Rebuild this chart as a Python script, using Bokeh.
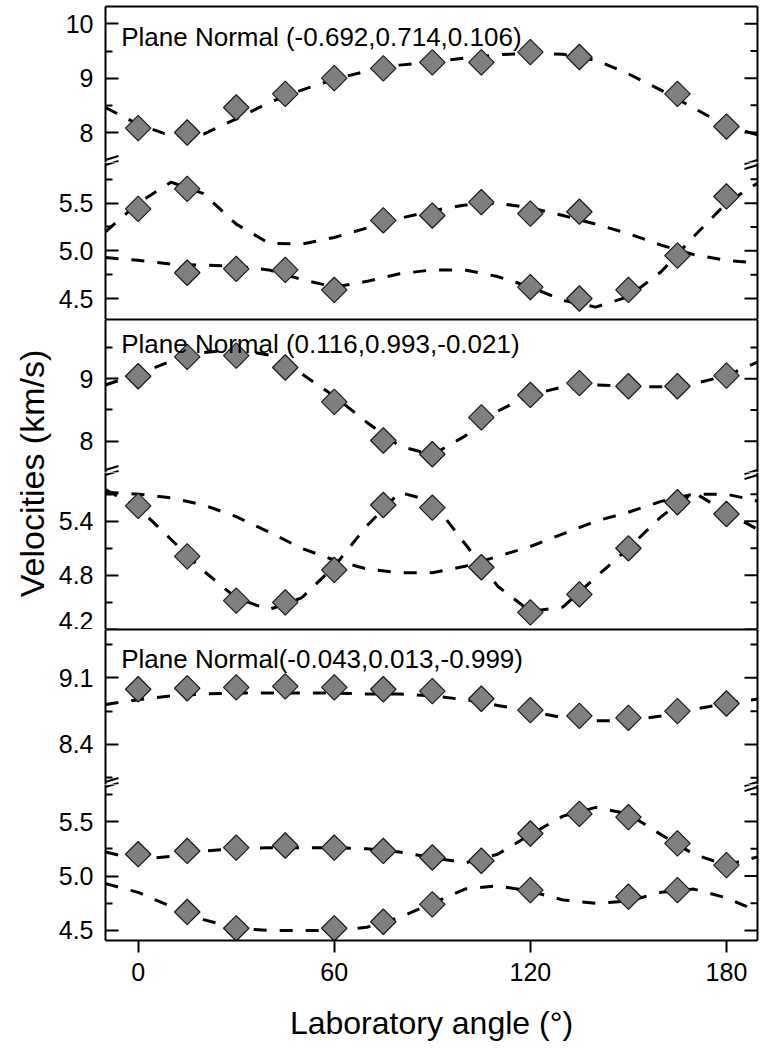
import numpy as np
from math import pi
from bokeh.plotting import figure
from bokeh.layouts import column, row
from bokeh.models import Range1d, LinearAxis, FixedTicker, Label, Arrow
from bokeh.embed import file_html
from bokeh.resources import INLINE

FONT = "Liberation Sans"

# ---------------- data ----------------
angles = [0, 15, 30, 45, 60, 75, 90, 105, 120, 135, 150, 165, 180]
fit_angles = [-10, 0, 10, 20, 30, 40, 50, 60, 70, 80, 90, 100, 110, 120, 130, 140, 150, 160, 170, 180, 190]

titles = ["Plane Normal (-0.692,0.714,0.106)",
          "Plane Normal (0.116,0.993,-0.021)",
          "Plane Normal(-0.043,0.013,-0.999)"]

# Panel 1
p1_qp = [8.08, 8.00, 8.46, 8.71, 9.00, 9.18, 9.29, 9.29, 9.48, 9.39, None, 8.71, 8.11]
p1_s1 = [5.44, 5.65, None, None, None, 5.32, 5.37, 5.51, 5.39, 5.41, None, 4.95, 5.57]
p1_s2 = [None, 4.77, 4.81, 4.80, 4.59, None, None, None, 4.62, 4.50, 4.59, None, None]
p1_fit_qp = [8.46, 8.15, 7.94, 7.97, 8.25, 8.55, 8.78, 8.98, 9.13, 9.24, 9.30, 9.37, 9.43, 9.46, 9.44, 9.33, 9.08, 8.78, 8.45, 8.12, 7.95]
p1_fit_s1 = [5.20, 5.50, 5.72, 5.60, 5.28, 5.08, 5.07, 5.14, 5.24, 5.34, 5.42, 5.48, 5.50, 5.45, 5.37, 5.28, 5.18, 5.06, 4.96, 4.90, 4.87]
p1_fit_s2 = [4.93, 4.90, 4.86, 4.85, 4.84, 4.80, 4.70, 4.62, 4.68, 4.76, 4.80, 4.80, 4.73, 4.62, 4.48, 4.41, 4.52, 4.78, 5.15, 5.50, 5.72]

# Panel 2
p2_qp = [9.04, 9.35, 9.37, 9.18, 8.63, 8.01, 7.79, 8.38, 8.74, 8.93, 8.88, 8.88, 9.05]
p2_s1 = [5.57, 5.01, 4.52, 4.50, 4.86, 5.58, 5.55, 4.89, 4.39, 4.59, 5.10, 5.61, 5.48]
p2_fit_qp = [8.90, 9.08, 9.28, 9.42, 9.47, 9.38, 9.08, 8.72, 8.30, 7.92, 7.78, 8.08, 8.48, 8.74, 8.87, 8.90, 8.88, 8.87, 8.92, 9.05, 9.28]
p2_fit_s1 = [5.72, 5.70, 5.66, 5.58, 5.45, 5.28, 5.10, 4.97, 4.87, 4.83, 4.83, 4.90, 5.01, 5.12, 5.26, 5.40, 5.50, 5.62, 5.70, 5.70, 5.62]
p2_fit_s2 = [5.75, 5.55, 5.20, 4.85, 4.55, 4.42, 4.55, 4.90, 5.35, 5.72, 5.62, 5.15, 4.68, 4.40, 4.45, 4.78, 5.10, 5.45, 5.72, 5.50, 5.30]

# Panel 3
p3_qp = [8.98, 8.99, 9.00, 9.01, 9.00, 8.98, 8.96, 8.88, 8.76, 8.70, 8.68, 8.75, 8.83]
p3_s1 = [5.20, 5.23, 5.26, 5.28, 5.26, 5.23, 5.17, 5.14, 5.39, 5.57, 5.54, 5.30, 5.10]
p3_s2 = [None, 4.67, 4.52, None, 4.52, 4.58, 4.74, None, 4.87, None, 4.81, 4.87, None]
p3_fit_qp = [8.82, 8.87, 8.91, 8.93, 8.94, 8.94, 8.94, 8.94, 8.93, 8.93, 8.91, 8.87, 8.81, 8.75, 8.68, 8.65, 8.65, 8.70, 8.77, 8.83, 8.88]
p3_fit_s1 = [5.22, 5.15, 5.18, 5.23, 5.25, 5.26, 5.26, 5.26, 5.25, 5.22, 5.17, 5.12, 5.20, 5.38, 5.55, 5.63, 5.57, 5.38, 5.20, 5.10, 5.18]
p3_fit_s2 = [4.93, 4.85, 4.72, 4.60, 4.52, 4.50, 4.50, 4.50, 4.53, 4.62, 4.75, 4.88, 4.91, 4.86, 4.78, 4.75, 4.77, 4.85, 4.88, 4.80, 4.67]

# axis ticks / labels
x_ticks = [0, 60, 120, 180]
x_tick_labels = ["0", "60", "120", "180"]

p1_hi_ticks, p1_hi_labels, p1_hi_minor = [8, 9, 10], ["8", "9", "10"], [8.5, 9.5]
p1_lo_ticks, p1_lo_labels, p1_lo_minor = [4.5, 5.0, 5.5], ["4.5", "5.0", "5.5"], [4.75, 5.25, 5.75]
p2_hi_ticks, p2_hi_labels, p2_hi_minor = [8, 9], ["8", "9"], [8.5, 9.5]
p2_lo_ticks, p2_lo_labels, p2_lo_minor = [4.2, 4.8, 5.4], ["4.2", "4.8", "5.4"], [4.5, 5.1, 5.7]
p3_hi_ticks, p3_hi_labels, p3_hi_minor = [8.4, 9.1], ["8.4", "9.1"], [8.05, 8.75, 9.45]
p3_lo_ticks, p3_lo_labels, p3_lo_minor = [4.5, 5.0, 5.5], ["4.5", "5.0", "5.5"], [4.75, 5.25, 5.75]

x_title = "Laboratory angle (°)"
y_title = "Velocities (km/s)"

# ---------------- layout ----------------
X0, X1 = -10, 189.5
FRAME_W = 652
LABEL_W = 53
LEFT_B = 52
RIGHT_B = 9
TOP_B = 6
BOTTOM_B = 108
TICK_FS = "25px"
xr = Range1d(X0, X1)
UPX = (X1 - X0) / FRAME_W


def arr(v):
    return np.array([np.nan if a is None else a for a in v], dtype=float)


def bare_axis():
    return LinearAxis(ticker=FixedTicker(ticks=[]), major_label_standoff=0,
                      major_tick_in=0, major_tick_out=0, minor_tick_in=0, minor_tick_out=0,
                      axis_line_width=2, axis_line_color="black")


def make_sub(yr, frame_h, major, labels, minor, top_line, bottom_axis=False, first=False):
    p = figure(frame_width=FRAME_W, frame_height=frame_h, x_range=xr, y_range=Range1d(*yr),
               output_backend="svg", toolbar_location=None, x_axis_location=None,
               min_border=0, min_border_left=LEFT_B, min_border_right=RIGHT_B,
               min_border_top=TOP_B if first else 0,
               min_border_bottom=BOTTOM_B if bottom_axis else 0)
    p.outline_line_color = None
    p.grid.visible = False
    ax = p.yaxis[0]
    ax.ticker = FixedTicker(ticks=major, minor_ticks=minor)
    ax.major_label_overrides = {t: l for t, l in zip(major, labels)}
    ax.major_label_text_font = FONT
    ax.major_label_text_font_size = TICK_FS
    ax.major_label_text_color = "black"
    ax.major_label_standoff = 12
    ax.major_tick_in = 13
    ax.major_tick_out = 0
    ax.minor_tick_in = 7
    ax.minor_tick_out = 0
    ax.axis_line_width = 2
    ax.major_tick_line_width = 2
    ax.minor_tick_line_width = 2
    ax.axis_line_color = "black"
    ax.major_tick_line_color = "black"
    ax.minor_tick_line_color = "black"
    # right frame line with inward ticks (no labels)
    p.add_layout(bare_axis(), "right")
    p.segment(x0=X1, y0=major, x1=X1 - 13 * UPX, y1=major, line_color="black", line_width=2)
    p.segment(x0=X1, y0=minor, x1=X1 - 7 * UPX, y1=minor, line_color="black", line_width=2)
    if not bottom_axis:
        p.add_layout(bare_axis(), "above" if top_line else "below")
    else:
        xa = LinearAxis(ticker=FixedTicker(ticks=x_ticks),
                        major_label_overrides={t: l for t, l in zip(x_ticks, x_tick_labels)},
                        major_label_text_font=FONT, major_label_text_font_size=TICK_FS,
                        major_label_text_color="black", major_label_standoff=10,
                        major_tick_in=0, major_tick_out=12, minor_tick_in=0, minor_tick_out=0,
                        axis_line_width=2, major_tick_line_width=2,
                        axis_line_color="black", major_tick_line_color="black",
                        axis_label=x_title, axis_label_text_font=FONT,
                        axis_label_text_font_size="32px", axis_label_text_font_style="normal",
                        axis_label_text_color="black", axis_label_standoff=21)
        p.add_layout(xa, "below")
    return p


def add_break(p, y_at, frame_h, yr):
    upy = (yr[1] - yr[0]) / frame_h
    for xe in (X0, X1):
        for d in (-2.5, 2.5):
            p.add_layout(Arrow(end=None, start=None,
                               x_start=xe - 13 * UPX, y_start=y_at + (-4 + d) * upy,
                               x_end=xe + 13 * UPX, y_end=y_at + (4 + d) * upy,
                               line_width=2, line_color="black"))


def draw(p, fits, series):
    for f in fits:
        p.line(fit_angles, arr(f), line_color="black", line_width=3, line_dash="13 13")
    for s in series:
        p.scatter(angles, arr(s), marker="square", size=18, angle=pi / 4,
                  fill_color="#7f7f7f", line_color="#1a1a1a", line_width=1.2)


panels = [
    dict(hi=(7.448, 10.319), hi_h=156, lo=(4.28, 5.926), lo_h=157,
         hi_t=(p1_hi_ticks, p1_hi_labels, p1_hi_minor), lo_t=(p1_lo_ticks, p1_lo_labels, p1_lo_minor),
         hi_fit=[p1_fit_qp], hi_s=[p1_qp], lo_fit=[p1_fit_s1, p1_fit_s2], lo_s=[p1_s1, p1_s2],
         title=titles[0], ty=9.76),
    dict(hi=(7.497, 9.95), hi_h=153, lo=(4.2, 5.94), lo_h=157,
         hi_t=(p2_hi_ticks, p2_hi_labels, p2_hi_minor), lo_t=(p2_lo_ticks, p2_lo_labels, p2_lo_minor),
         hi_fit=[p2_fit_qp], hi_s=[p2_qp], lo_fit=[p2_fit_s1, p2_fit_s2], lo_s=[p2_s1],
         title=titles[1], ty=9.56),
    dict(hi=(7.98, 9.607), hi_h=155, lo=(4.408, 5.84), lo_h=156,
         hi_t=(p3_hi_ticks, p3_hi_labels, p3_hi_minor), lo_t=(p3_lo_ticks, p3_lo_labels, p3_lo_minor),
         hi_fit=[p3_fit_qp], hi_s=[p3_qp], lo_fit=[p3_fit_s1, p3_fit_s2], lo_s=[p3_s1, p3_s2],
         title=titles[2], ty=9.30),
]

figs = []
for i, pn in enumerate(panels):
    last = (i == len(panels) - 1)
    ph = make_sub(pn["hi"], pn["hi_h"], *pn["hi_t"], top_line=True, first=(i == 0))
    pl = make_sub(pn["lo"], pn["lo_h"], *pn["lo_t"], top_line=False, bottom_axis=last)
    draw(ph, pn["hi_fit"], pn["hi_s"])
    draw(pl, pn["lo_fit"], pn["lo_s"])
    ph.add_layout(Label(x=-5.2, y=pn["ty"], text=pn["title"], text_font=FONT,
                        text_font_size="26px", text_color="black", text_baseline="alphabetic"))
    add_break(ph, pn["hi"][0], pn["hi_h"], pn["hi"])
    add_break(pl, pn["lo"][1], pn["lo_h"], pn["lo"])
    figs += [ph, pl]

# the lowest tick label of panel 2 (4.2) straddles the panel boundary:
# draw its lower half in the figure just below
figs[4].add_layout(Label(x=X0 - 12 * UPX, y=panels[2]["hi"][1], text=p2_lo_labels[0],
                         text_align="right", text_baseline="middle", text_font=FONT,
                         text_font_size=TICK_FS, text_color="black"))

TOTAL_H = TOP_B + 156 + 157 + 153 + 157 + 155 + 156 + BOTTOM_B
lab = figure(width=LABEL_W, height=TOTAL_H, x_range=Range1d(0, LABEL_W), y_range=Range1d(0, TOTAL_H),
             output_backend="svg", toolbar_location=None, min_border=0,
             x_axis_location=None, y_axis_location=None)
lab.outline_line_color = None
lab.grid.visible = False
lab.add_layout(Label(x=31, y=TOTAL_H - 473, text=y_title, angle=pi / 2, text_align="center",
                     text_baseline="middle", text_font=FONT, text_font_size="34px",
                     text_color="black"))

layout = row(lab, column(*figs, spacing=0), spacing=0)

open("out.html", "w").write(file_html(layout, INLINE))
